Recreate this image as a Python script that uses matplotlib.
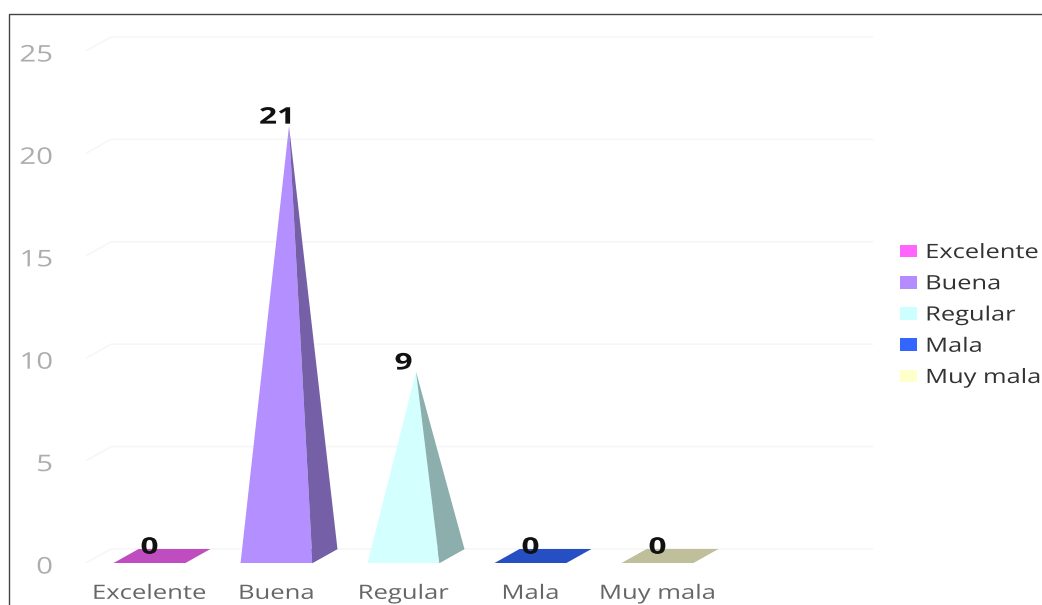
import matplotlib
matplotlib.use('Agg')
import matplotlib.pyplot as plt
import matplotlib.patheffects as pe
from matplotlib.lines import Line2D
from matplotlib.patches import Patch
from matplotlib.transforms import Affine2D

categories = ['Excelente', 'Buena', 'Regular', 'Mala', 'Muy mala']
values = [0, 21, 9, 0, 0]
legend_colors = ['#FF66FF', '#B38CFF', '#CCFFFF', '#3366FF', '#FFFFCC']
front_colors = ['#FF66FF', '#B38FFF', '#D4FFFF', '#3366FF', '#FFFFCC']
side_colors = ['#BF4DBF', '#7560A8', '#8CAFAD', '#264FC4', '#BFBF9C']
y_ticks = [0, 5, 10, 15, 20, 25]

W, H = 1042, 605
# depth of the fake 3d effect, in data units
DEPTH_X = 0.197
DEPTH_Y = 0.684
HALF_W = 0.283


# widen text horizontally around one anchor of its outline, dy in pixels
class Stretch(pe.AbstractPathEffect):
    def __init__(self, sx, anchor=0.5, dy=0):
        super().__init__()
        self.sx = sx
        self.anchor = anchor
        self.dy = dy

    def draw_path(self, renderer, gc, tpath, affine, rgbFace=None):
        box = tpath.get_extents(affine)
        cx = box.x0 + self.anchor * box.width
        tr = affine + Affine2D().translate(-cx, 0).scale(self.sx, 1).translate(cx, self.dy)
        renderer.draw_path(gc, tpath, tr, rgbFace)


plt.rcParams['font.family'] = ['Open Sans', 'DejaVu Sans']

fig = plt.figure(figsize=(W / 100, H / 100), dpi=100)
ax = fig.add_axes([86 / W, (H - 563) / H, 762 / W, 512 / H])
ax.set_xlim(-0.5, 5.5)
ax.set_ylim(0, 25)
for s in ax.spines.values():
    s.set_visible(False)

# gridlines run along the floor and then the back wall
for t in y_ticks:
    ax.plot([-0.5, -0.5 + DEPTH_X, 5.5 + DEPTH_X], [t, t + DEPTH_Y, t + DEPTH_Y],
            color='#F5F5F5', lw=1, clip_on=False, zorder=1, solid_capstyle='butt')

# each bar is a floor polygon plus the front and side of a pyramid
for i, v in enumerate(values):
    l, r = i - HALF_W, i + HALF_W
    tip = (i + DEPTH_X / 2, v + DEPTH_Y / 2)
    ax.fill([l, r, r + DEPTH_X, l + DEPTH_X], [0, 0, DEPTH_Y, DEPTH_Y],
            color=side_colors[i], lw=0, clip_on=False, zorder=2)
    if v > 0:
        ax.fill([l, r, tip[0]], [0, 0, tip[1]], color=front_colors[i], lw=0, clip_on=False, zorder=3)
        ax.fill([r, r + DEPTH_X, tip[0]], [0, DEPTH_Y, tip[1]], color=side_colors[i], lw=0,
                clip_on=False, zorder=3)
    ax.annotate(str(v), (i, v), xytext=(0, 11), textcoords='offset points', ha='center', va='center',
                fontsize=16.5, fontweight='bold', color='#111111', zorder=5,
                path_effects=[Stretch(1.38)])

ax.set_xticks(range(len(categories)))
ax.set_xticklabels(categories, fontsize=14.2, color='#666666', path_effects=[Stretch(1.3)])
ax.set_yticks(y_ticks)
ax.set_yticklabels([str(t) for t in y_ticks], fontsize=16.5, color='#ADADAD',
                   path_effects=[Stretch(1.28, 1.0, dy=-1.5)])
ax.tick_params(axis='x', length=0, pad=15)
ax.tick_params(axis='y', length=0, pad=24)

handles = [Patch(facecolor=c, edgecolor='none', label=n) for c, n in zip(legend_colors, categories)]
leg = ax.legend(handles=handles, loc='center left', bbox_to_anchor=(892 / W, (H - 315.5) / H),
                bbox_transform=fig.transFigure, frameon=False, fontsize=14.2,
                handlelength=0.87, handleheight=0.61, handletextpad=0.44, labelspacing=0.57,
                borderpad=0.4, borderaxespad=0)
for t in leg.get_texts():
    t.set_color('#333333')
    t.set_path_effects([Stretch(1.29, 0.0)])

# thin frame along the top and left edges
fig.add_artist(Line2D([8.5 / W, 8.5 / W, 1], [0, 1 - 14 / H, 1 - 14 / H], color='#444444', lw=1))

fig.savefig('out.png', dpi=100)
